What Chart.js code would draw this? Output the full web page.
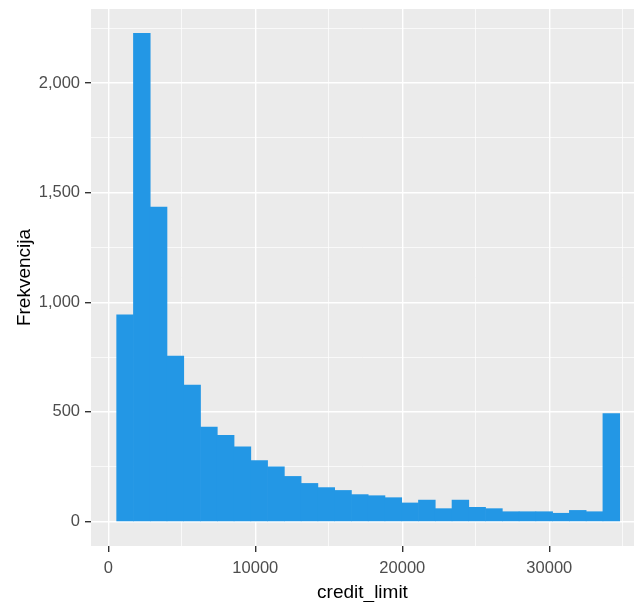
<!DOCTYPE html>
<html>
<head>
<meta charset="utf-8">
<script src="https://cdn.jsdelivr.net/npm/chart.js@4.4.0/dist/chart.umd.min.js"></script>
<style>
  html, body { margin: 0; padding: 0; background: #fff; }
  #wrap { width: 634px; height: 602px; position: relative; overflow: hidden; }
</style>
</head>
<body>
<div id="wrap"><canvas id="chart-output" width="634" height="602"></canvas></div>
<script>
// histogram of credit_limit, 30 bins
var binStart = 570.3;
var binWidth = 1140.6;
var counts = [943, 2226, 1434, 755, 622, 431, 393, 341, 278, 250,
              206, 174, 155, 142, 123, 118, 109, 85, 98, 59,
              98, 65, 59, 45, 45, 45, 38, 51, 45, 492];
var xMajor = [0, 10000, 20000, 30000];
var xMinor = [5000, 15000, 25000, 35000];
var yMajor = [0, 500, 1000, 1500, 2000];
var yMinor = [250, 750, 1250, 1750, 2250];

var points = counts.map(function (c, i) {
  return { x: binStart + binWidth * (i + 0.5), y: c };
});

function isMajor(axis, v) {
  return (axis === 'x' ? xMajor : yMajor).indexOf(v) !== -1;
}
function setTicks(axis) {
  return function (s) {
    var vals = axis === 'x' ? xMajor.concat(xMinor) : yMajor.concat(yMinor);
    vals.sort(function (a, b) { return a - b; });
    s.ticks = vals.map(function (v) { return { value: v }; });
  };
}

// grey panel behind the plot like ggplot
var panelBg = {
  id: 'panelBg',
  beforeDraw: function (chart) {
    var a = chart.chartArea, c = chart.ctx;
    c.save();
    c.fillStyle = '#EBEBEB';
    c.fillRect(a.left, a.top, a.right - a.left, a.bottom - a.top);
    c.restore();
  }
};

function gridOpts(axis) {
  return {
    offset: false,
    drawTicks: true,
    tickLength: 6,
    color: '#FFFFFF',
    lineWidth: function (ctx) { return ctx.tick && isMajor(axis, ctx.tick.value) ? 1.4 : 0.7; },
    tickColor: function (ctx) { return ctx.tick && isMajor(axis, ctx.tick.value) ? '#333333' : 'rgba(0,0,0,0)'; },
    tickWidth: 1.4
  };
}

var tickFont = { family: "'Liberation Sans', Arial, sans-serif", size: 16.5 };
var titleFont = { family: "'Liberation Sans', Arial, sans-serif", size: 19, lineHeight: 1 };

var ctx = document.getElementById('chart-output');
var myChart = new Chart(ctx, {
  type: 'bar',
  data: {
    datasets: [{
      label: 'credit_limit',
      data: points,
      backgroundColor: '#2397E5',
      borderWidth: 0,
      barPercentage: 1,
      categoryPercentage: 1
    }]
  },
  options: {
    responsive: false,
    animation: false,
    layout: { padding: { top: 9, right: 0, bottom: 0, left: 0 } },
    plugins: { legend: { display: false }, tooltip: { enabled: false } },
    scales: {
      x: {
        type: 'linear',
        offset: false,
        min: -1177,
        max: 35762,
        border: { display: false },
        grid: gridOpts('x'),
        afterBuildTicks: setTicks('x'),
        afterFit: function (s) { s.height = 56; s.paddingLeft = 0; s.paddingRight = 0; },
        ticks: {
          autoSkip: false,
          maxRotation: 0,
          padding: 7,
          color: '#4D4D4D',
          font: tickFont,
          callback: function (v) { return isMajor('x', v) ? String(v) : ''; }
        },
        title: {
          display: true,
          text: 'credit_limit',
          color: '#000000',
          font: titleFont,
          padding: 0
        }
      },
      y: {
        type: 'linear',
        min: -111.3,
        max: 2337.3,
        border: { display: false },
        grid: gridOpts('y'),
        afterBuildTicks: setTicks('y'),
        afterFit: function (s) { s.width = 91; s.paddingTop = 0; s.paddingBottom = 0; },
        ticks: {
          autoSkip: false,
          padding: 5,
          color: '#4D4D4D',
          font: tickFont,
          callback: function (v) { return isMajor('y', v) ? v.toLocaleString('en-US') : ''; }
        },
        title: {
          display: true,
          text: 'Frekvencija',
          color: '#000000',
          font: titleFont,
          padding: { top: 15, bottom: 0 }
        }
      }
    }
  },
  plugins: [panelBg]
});
</script>
</body>
</html>
